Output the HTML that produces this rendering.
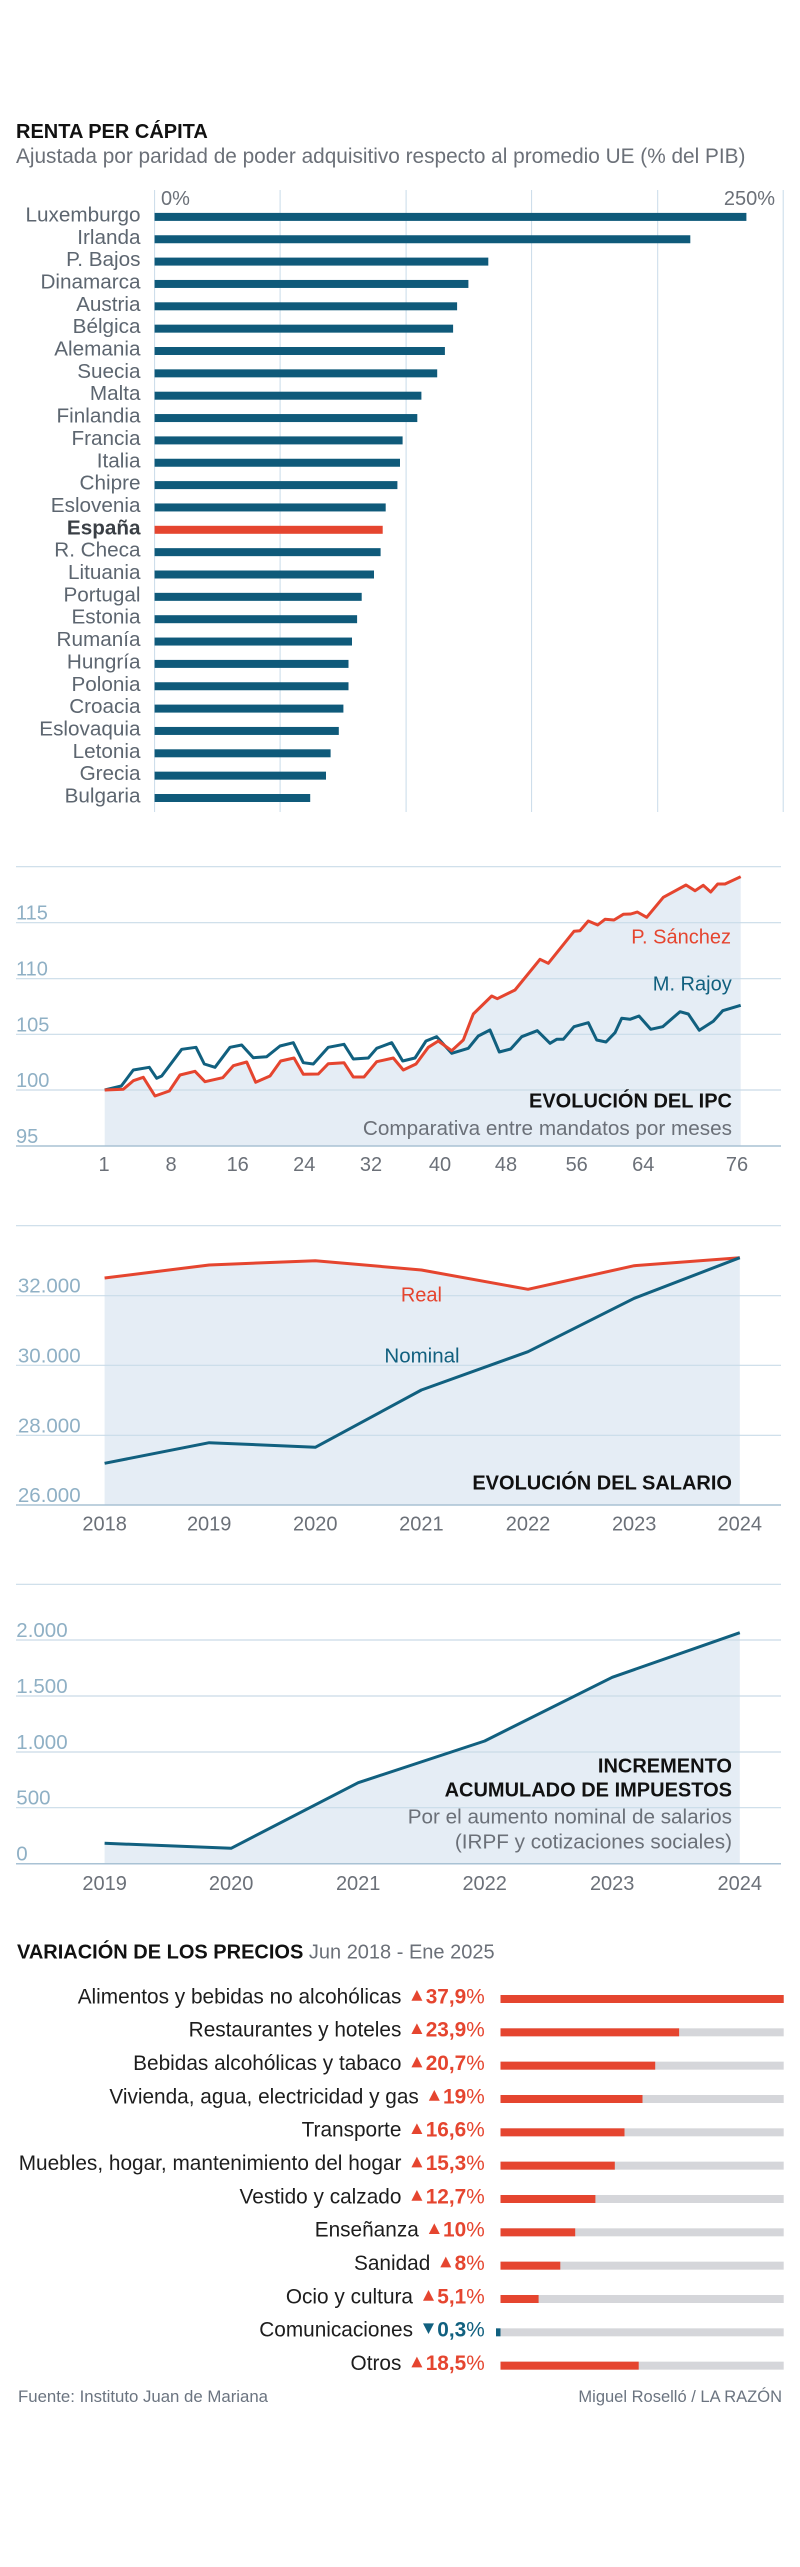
<!DOCTYPE html>
<html><head><meta charset="utf-8">
<style>
html,body{margin:0;padding:0;background:#fff;}
svg{display:block;}
text{font-family:"Liberation Sans",Arial,sans-serif;}
</style></head><body>
<svg width="800" height="2567" viewBox="0 0 800 2567" xmlns="http://www.w3.org/2000/svg">
<rect x="0" y="0" width="800" height="2567" fill="#ffffff"/>

<!-- ===== RENTA PER CÁPITA ===== -->
<text x="16" y="138" font-size="20" font-weight="bold" fill="#111">RENTA PER CÁPITA</text>
<text x="16" y="163" font-size="20.8" fill="#6b7078">Ajustada por paridad de poder adquisitivo respecto al promedio UE (% del PIB)</text>

<g stroke="#c9dbe9" stroke-width="1">
<line x1="154.6" y1="190" x2="154.6" y2="812"/>
<line x1="280.1" y1="190" x2="280.1" y2="812"/>
<line x1="406.1" y1="190" x2="406.1" y2="812"/>
<line x1="531.6" y1="190" x2="531.6" y2="812"/>
<line x1="657.7" y1="190" x2="657.7" y2="812"/>
<line x1="783.2" y1="190" x2="783.2" y2="812"/>
</g>
<text x="161" y="205" font-size="20" fill="#6b7078">0%</text>
<text x="775" y="205" font-size="20" fill="#6b7078" text-anchor="end">250%</text>

<g fill="#0f5a7a">
<rect x="154.6" y="212.9" width="591.8" height="8"/>
<rect x="154.6" y="235.25" width="535.7" height="8"/>
<rect x="154.6" y="257.6" width="333.7" height="8"/>
<rect x="154.6" y="279.95" width="313.8" height="8"/>
<rect x="154.6" y="302.3" width="302.5" height="8"/>
<rect x="154.6" y="324.65" width="298.5" height="8"/>
<rect x="154.6" y="347.0" width="290.3" height="8"/>
<rect x="154.6" y="369.35" width="282.6" height="8"/>
<rect x="154.6" y="391.7" width="266.8" height="8"/>
<rect x="154.6" y="414.05" width="262.7" height="8"/>
<rect x="154.6" y="436.4" width="248.0" height="8"/>
<rect x="154.6" y="458.75" width="245.4" height="8"/>
<rect x="154.6" y="481.1" width="242.8" height="8"/>
<rect x="154.6" y="503.45" width="231.1" height="8"/>
<rect x="154.6" y="525.8" width="228.1" height="8" fill="#e5452f"/>
<rect x="154.6" y="548.15" width="226.0" height="8"/>
<rect x="154.6" y="570.5" width="219.4" height="8"/>
<rect x="154.6" y="592.85" width="207.1" height="8"/>
<rect x="154.6" y="615.2" width="202.5" height="8"/>
<rect x="154.6" y="637.55" width="197.4" height="8"/>
<rect x="154.6" y="659.9" width="193.9" height="8"/>
<rect x="154.6" y="682.25" width="193.9" height="8"/>
<rect x="154.6" y="704.6" width="188.8" height="8"/>
<rect x="154.6" y="726.95" width="184.2" height="8"/>
<rect x="154.6" y="749.3" width="176.0" height="8"/>
<rect x="154.6" y="771.65" width="171.4" height="8"/>
<rect x="154.6" y="794.0" width="155.6" height="8"/>
</g>

<g font-size="20.7" fill="#5d6670" text-anchor="end">
<text x="140.5" y="221.4">Luxemburgo</text>
<text x="140.5" y="243.75">Irlanda</text>
<text x="140.5" y="266.1">P. Bajos</text>
<text x="140.5" y="288.45">Dinamarca</text>
<text x="140.5" y="310.8">Austria</text>
<text x="140.5" y="333.15">Bélgica</text>
<text x="140.5" y="355.5">Alemania</text>
<text x="140.5" y="377.85">Suecia</text>
<text x="140.5" y="400.2">Malta</text>
<text x="140.5" y="422.55">Finlandia</text>
<text x="140.5" y="444.9">Francia</text>
<text x="140.5" y="467.25">Italia</text>
<text x="140.5" y="489.6">Chipre</text>
<text x="140.5" y="511.95">Eslovenia</text>
<text x="140.5" y="534.3" font-weight="bold" fill="#3a3f45">España</text>
<text x="140.5" y="556.65">R. Checa</text>
<text x="140.5" y="579.0">Lituania</text>
<text x="140.5" y="601.35">Portugal</text>
<text x="140.5" y="623.7">Estonia</text>
<text x="140.5" y="646.05">Rumanía</text>
<text x="140.5" y="668.4">Hungría</text>
<text x="140.5" y="690.75">Polonia</text>
<text x="140.5" y="713.1">Croacia</text>
<text x="140.5" y="735.45">Eslovaquia</text>
<text x="140.5" y="757.8">Letonia</text>
<text x="140.5" y="780.15">Grecia</text>
<text x="140.5" y="802.5">Bulgaria</text>
</g>

<!-- ===== IPC ===== -->
<path d="M104.7,1146 L104.7,1090 L123.3,1089.3 L133.3,1080.7 L143.3,1077.3 L155,1096 L169.3,1091 L180,1075 L195,1071.3 L205,1081.7 L222.7,1077.7 L233.3,1065.7 L246.7,1062 L255.7,1082.3 L270,1076 L280.7,1061 L294,1058 L303.3,1074.3 L318.3,1074 L328.3,1063.7 L344,1062.7 L353.3,1077 L364,1077 L376.7,1061.7 L393.3,1058 L403.3,1070 L416,1064 L428.3,1047.3 L438.3,1041 L451.7,1050.7 L463.3,1040 L473.3,1014 L491.7,996 L497.3,998.7 L515,990 L540,959.3 L548.3,963.3 L574,931.3 L580,930.7 L588.3,921 L597.7,925 L605,919.3 L614,920 L623.3,914.3 L630.7,914 L637.3,912 L646.7,917.3 L663.3,897.3 L686,885 L695,890.7 L703.3,885.3 L710.7,892 L717.7,884 L725,884 L740.7,876.7 L740.7,1146 Z" fill="#e5edf5"/>
<g stroke="#c9dbe8" stroke-width="1.2">
<line x1="16" y1="866.7" x2="781" y2="866.7"/>
<line x1="16" y1="922.7" x2="781" y2="922.7"/>
<line x1="16" y1="978.7" x2="781" y2="978.7"/>
<line x1="16" y1="1034.3" x2="781" y2="1034.3"/>
<line x1="16" y1="1090" x2="781" y2="1090"/>
</g>
<line x1="16" y1="1146" x2="781" y2="1146" stroke="#a9c2d4" stroke-width="1.5"/>

<polyline fill="none" stroke="#11607f" stroke-width="3" stroke-linejoin="round" points="104.7,1090 121.3,1086 133.3,1070 149.3,1067.3 156.7,1078.3 161.7,1076 181.7,1049.3 196,1047.3 204.3,1064 215,1067.3 230,1047.3 241.7,1045 253.3,1057.7 266.7,1056.7 280,1046 293.3,1042.7 303.3,1062.7 313.3,1064 328.3,1047.3 344,1044.3 353.3,1059 368.3,1058 376.7,1048.3 391.7,1042.7 402.7,1061 415,1058 426,1041 436.7,1036.7 451.7,1053.3 468.3,1048.3 478.3,1036 490,1030 499.3,1052 510.7,1049 521.7,1036.7 537.3,1030.7 550,1043.3 556.7,1039.3 563.3,1039.3 574,1026.7 588.3,1022.7 596.7,1040 606,1042 615,1032.7 621.7,1018.3 630,1019.3 639,1016 650.7,1029.3 662.7,1026.7 680,1011.7 688.3,1014 699.3,1030.3 713.3,1021.3 722.7,1010.7 740.7,1005.3"/>
<polyline fill="none" stroke="#e5452f" stroke-width="3" stroke-linejoin="round" points="104.7,1090 123.3,1089.3 133.3,1080.7 143.3,1077.3 155,1096 169.3,1091 180,1075 195,1071.3 205,1081.7 222.7,1077.7 233.3,1065.7 246.7,1062 255.7,1082.3 270,1076 280.7,1061 294,1058 303.3,1074.3 318.3,1074 328.3,1063.7 344,1062.7 353.3,1077 364,1077 376.7,1061.7 393.3,1058 403.3,1070 416,1064 428.3,1047.3 438.3,1041 451.7,1050.7 463.3,1040 473.3,1014 491.7,996 497.3,998.7 515,990 540,959.3 548.3,963.3 574,931.3 580,930.7 588.3,921 597.7,925 605,919.3 614,920 623.3,914.3 630.7,914 637.3,912 646.7,917.3 663.3,897.3 686,885 695,890.7 703.3,885.3 710.7,892 717.7,884 725,884 740.7,876.7"/>

<g font-size="20" fill="#8fb0c5">
<text x="16" y="919.7">115</text>
<text x="16" y="975.7">110</text>
<text x="16" y="1031.3">105</text>
<text x="16" y="1087">100</text>
<text x="16" y="1143">95</text>
</g>
<g font-size="20" fill="#6b7078" text-anchor="middle">
<text x="104" y="1171">1</text>
<text x="171" y="1171">8</text>
<text x="237.7" y="1171">16</text>
<text x="304.3" y="1171">24</text>
<text x="371" y="1171">32</text>
<text x="440" y="1171">40</text>
<text x="506" y="1171">48</text>
<text x="576.7" y="1171">56</text>
<text x="643.3" y="1171">64</text>
<text x="737" y="1171">76</text>
</g>
<text x="731" y="943.3" font-size="20" fill="#e5452f" text-anchor="end">P. Sánchez</text>
<text x="731.7" y="990.7" font-size="20" fill="#11607f" text-anchor="end">M. Rajoy</text>
<text x="732" y="1107.7" font-size="20" font-weight="bold" fill="#111" text-anchor="end">EVOLUCIÓN DEL IPC</text>
<text x="732" y="1135" font-size="20.7" fill="#6b7078" text-anchor="end">Comparativa entre mandatos por meses</text>

<!-- ===== SALARIO ===== -->
<path d="M104.6,1505 L104.6,1278 L209.2,1265 L315.3,1260.7 L421.4,1270 L528,1289.3 L634.2,1265.7 L739.8,1257.7 L739.8,1505 Z" fill="#e5edf5"/>
<g stroke="#c9dbe8" stroke-width="1.2">
<line x1="16" y1="1225.7" x2="781" y2="1225.7"/>
<line x1="16" y1="1295.7" x2="781" y2="1295.7"/>
<line x1="16" y1="1365.3" x2="781" y2="1365.3"/>
<line x1="16" y1="1435.3" x2="781" y2="1435.3"/>
</g>
<line x1="16" y1="1505" x2="781" y2="1505" stroke="#a9c2d4" stroke-width="1.5"/>
<polyline fill="none" stroke="#e5452f" stroke-width="3" stroke-linejoin="round" points="104.6,1278 209.2,1265 315.3,1260.7 421.4,1270 528,1289.3 634.2,1265.7 739.8,1257.7"/>
<polyline fill="none" stroke="#11607f" stroke-width="3" stroke-linejoin="round" points="104.6,1463.3 209.2,1442.7 315.3,1447.3 421.4,1390 528,1351.7 634.2,1298.3 739.8,1257.7"/>
<g font-size="20.5" fill="#8fb0c5">
<text x="17.9" y="1292.7">32.000</text>
<text x="17.9" y="1362.3">30.000</text>
<text x="17.9" y="1432.3">28.000</text>
<text x="17.9" y="1502">26.000</text>
</g>
<g font-size="20" fill="#6b7078" text-anchor="middle">
<text x="104.6" y="1530.7">2018</text>
<text x="209.2" y="1530.7">2019</text>
<text x="315.3" y="1530.7">2020</text>
<text x="421.4" y="1530.7">2021</text>
<text x="528" y="1530.7">2022</text>
<text x="634.2" y="1530.7">2023</text>
<text x="739.8" y="1530.7">2024</text>
</g>
<text x="421.4" y="1301.7" font-size="20" fill="#e5452f" text-anchor="middle">Real</text>
<text x="422" y="1362.3" font-size="20.5" fill="#11607f" text-anchor="middle">Nominal</text>
<text x="732" y="1489.3" font-size="20" font-weight="bold" fill="#111" text-anchor="end">EVOLUCIÓN DEL SALARIO</text>

<!-- ===== IMPUESTOS ===== -->
<path d="M104.6,1863.7 L104.6,1843.3 L231.1,1848.3 L358.2,1782.7 L484.7,1741 L612.2,1677.3 L739.8,1632.7 L739.8,1863.7 Z" fill="#e5edf5"/>
<g stroke="#c9dbe8" stroke-width="1.2">
<line x1="16" y1="1584.3" x2="781" y2="1584.3"/>
<line x1="16" y1="1640" x2="781" y2="1640"/>
<line x1="16" y1="1696" x2="781" y2="1696"/>
<line x1="16" y1="1752" x2="781" y2="1752"/>
<line x1="16" y1="1807.7" x2="781" y2="1807.7"/>
</g>
<line x1="16" y1="1863.7" x2="781" y2="1863.7" stroke="#a9c2d4" stroke-width="1.5"/>
<polyline fill="none" stroke="#11607f" stroke-width="3" stroke-linejoin="round" points="104.6,1843.3 231.1,1848.3 358.2,1782.7 484.7,1741 612.2,1677.3 739.8,1632.7"/>
<g font-size="20.5" fill="#8fb0c5">
<text x="16.3" y="1637">2.000</text>
<text x="16.3" y="1693">1.500</text>
<text x="16.3" y="1749">1.000</text>
<text x="16.3" y="1804.7">500</text>
<text x="16.3" y="1860.7">0</text>
</g>
<g font-size="20" fill="#6b7078" text-anchor="middle">
<text x="104.6" y="1890">2019</text>
<text x="231.1" y="1890">2020</text>
<text x="358.2" y="1890">2021</text>
<text x="484.7" y="1890">2022</text>
<text x="612.2" y="1890">2023</text>
<text x="739.8" y="1890">2024</text>
</g>
<g text-anchor="end">
<text x="732" y="1772.7" font-size="20" font-weight="bold" fill="#111">INCREMENTO</text>
<text x="732" y="1796.7" font-size="20" font-weight="bold" fill="#111">ACUMULADO DE IMPUESTOS</text>
<text x="732" y="1823.3" font-size="20.7" fill="#6b7078">Por el aumento nominal de salarios</text>
<text x="732" y="1848.3" font-size="20.7" fill="#6b7078">(IRPF y cotizaciones sociales)</text>
</g>

<!-- ===== VARIACIÓN DE LOS PRECIOS ===== -->
<text x="17" y="1958.3"><tspan font-size="20" font-weight="bold" fill="#111">VARIACIÓN DE LOS PRECIOS</tspan><tspan font-size="20" fill="#6b7078"> Jun 2018 - Ene 2025</tspan></text>

<!-- tracks -->
<g fill="#d5d6da">
<rect x="500.5" y="1995" width="283.2" height="8"/>
<rect x="500.5" y="2028.33" width="283.2" height="8"/>
<rect x="500.5" y="2061.66" width="283.2" height="8"/>
<rect x="500.5" y="2095" width="283.2" height="8"/>
<rect x="500.5" y="2128.33" width="283.2" height="8"/>
<rect x="500.5" y="2161.66" width="283.2" height="8"/>
<rect x="500.5" y="2195" width="283.2" height="8"/>
<rect x="500.5" y="2228.33" width="283.2" height="8"/>
<rect x="500.5" y="2261.66" width="283.2" height="8"/>
<rect x="500.5" y="2295" width="283.2" height="8"/>
<rect x="500.5" y="2328.33" width="283.2" height="8"/>
<rect x="500.5" y="2361.66" width="283.2" height="8"/>
</g>
<g fill="#e5452f">
<rect x="500.5" y="1995" width="283.2" height="8"/>
<rect x="500.5" y="2028.33" width="178.6" height="8"/>
<rect x="500.5" y="2061.66" width="154.7" height="8"/>
<rect x="500.5" y="2095" width="142.0" height="8"/>
<rect x="500.5" y="2128.33" width="124.0" height="8"/>
<rect x="500.5" y="2161.66" width="114.3" height="8"/>
<rect x="500.5" y="2195" width="94.9" height="8"/>
<rect x="500.5" y="2228.33" width="74.7" height="8"/>
<rect x="500.5" y="2261.66" width="59.8" height="8"/>
<rect x="500.5" y="2295" width="38.1" height="8"/>
<rect x="500.5" y="2361.66" width="138.2" height="8"/>
</g>
<rect x="496" y="2328.33" width="4.5" height="8" fill="#11607f"/>

<!-- values -->
<g font-size="20.8" text-anchor="end" fill="#e5452f">
<text x="484.7" y="2003.3"><tspan font-weight="bold">37,9</tspan>%</text>
<text x="484.7" y="2036.63"><tspan font-weight="bold">23,9</tspan>%</text>
<text x="484.7" y="2069.96"><tspan font-weight="bold">20,7</tspan>%</text>
<text x="484.7" y="2103.3"><tspan font-weight="bold">19</tspan>%</text>
<text x="484.7" y="2136.63"><tspan font-weight="bold">16,6</tspan>%</text>
<text x="484.7" y="2169.96"><tspan font-weight="bold">15,3</tspan>%</text>
<text x="484.7" y="2203.3"><tspan font-weight="bold">12,7</tspan>%</text>
<text x="484.7" y="2236.63"><tspan font-weight="bold">10</tspan>%</text>
<text x="484.7" y="2269.96"><tspan font-weight="bold">8</tspan>%</text>
<text x="484.7" y="2303.3"><tspan font-weight="bold">5,1</tspan>%</text>
<text x="484.7" y="2336.63" fill="#11607f"><tspan font-weight="bold">0,3</tspan>%</text>
<text x="484.7" y="2369.96"><tspan font-weight="bold">18,5</tspan>%</text>
</g>
<!-- triangles -->
<g fill="#e5452f">
<polygon points="411.4,2000.7 422.4,2000.7 416.9,1990"/>
<polygon points="411.4,2034.03 422.4,2034.03 416.9,2023.33"/>
<polygon points="411.4,2067.36 422.4,2067.36 416.9,2056.66"/>
<polygon points="428.8,2100.7 439.8,2100.7 434.3,2090"/>
<polygon points="411.4,2134.03 422.4,2134.03 416.9,2123.33"/>
<polygon points="411.4,2167.36 422.4,2167.36 416.9,2156.66"/>
<polygon points="411.4,2200.7 422.4,2200.7 416.9,2190"/>
<polygon points="428.8,2234.03 439.8,2234.03 434.3,2223.33"/>
<polygon points="440.3,2267.36 451.3,2267.36 445.8,2256.66"/>
<polygon points="423.0,2300.7 434.0,2300.7 428.5,2290"/>
<polygon points="411.4,2367.36 422.4,2367.36 416.9,2356.66"/>
</g>
<polygon points="423.0,2323.33 434.0,2323.33 428.5,2334.03" fill="#11607f"/>
<!-- labels -->
<g font-size="20.8" text-anchor="end" fill="#1d1d1d">
<text x="401.4" y="2003.3">Alimentos y bebidas no alcohólicas</text>
<text x="401.4" y="2036.63">Restaurantes y hoteles</text>
<text x="401.4" y="2069.96">Bebidas alcohólicas y tabaco</text>
<text x="418.8" y="2103.3">Vivienda, agua, electricidad y gas</text>
<text x="401.4" y="2136.63">Transporte</text>
<text x="401.4" y="2169.96">Muebles, hogar, mantenimiento del hogar</text>
<text x="401.4" y="2203.3">Vestido y calzado</text>
<text x="418.8" y="2236.63">Enseñanza</text>
<text x="430.3" y="2269.96">Sanidad</text>
<text x="413.0" y="2303.3">Ocio y cultura</text>
<text x="413.0" y="2336.63">Comunicaciones</text>
<text x="401.4" y="2369.96">Otros</text>
</g>

<!-- footer -->
<text x="18" y="2402" font-size="16.8" fill="#6b7480">Fuente: Instituto Juan de Mariana</text>
<text x="782" y="2402" font-size="16.5" fill="#6b7480" text-anchor="end">Miguel Roselló / LA RAZÓN</text>
</svg>
</body></html>
